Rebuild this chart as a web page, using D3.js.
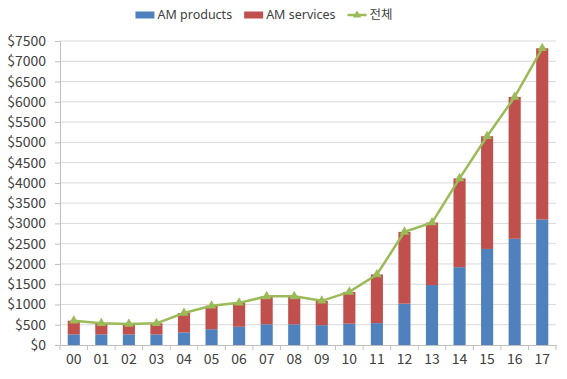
<!DOCTYPE html>
<html>
<head>
<meta charset="utf-8">
<script src="https://cdn.jsdelivr.net/npm/d3@7"></script>
<style>
  body { margin: 0; background: #fff; }
  text { font-family: "Noto Sans CJK KR", "Open Sans", sans-serif; fill: #404040; }
  .legend text { font-family: "Noto Sans", "Noto Sans CJK KR", sans-serif; }
</style>
</head>
<body>
<div id="chart"></div>
<script>
const years = ["00","01","02","03","04","05","06","07","08","09","10","11","12","13","14","15","16","17"];
const products = [260, 260, 260, 260, 310, 390, 450, 510, 510, 490, 525, 540, 1020, 1480, 1920, 2370, 2620, 3100];
const totals = [600, 535, 520, 535, 790, 970, 1040, 1200, 1200, 1090, 1310, 1740, 2790, 3020, 4110, 5150, 6120, 7320];
const services = totals.map((t, i) => t - products[i]);
const yTicks = d3.range(0, 7501, 500);

const margin = {top: 41, right: 11, bottom: 34, left: 60},
    width = 567 - margin.left - margin.right,
    height = 379 - margin.top - margin.bottom;

const svg = d3.select("#chart")
  .append("svg")
    .attr("width", 567)
    .attr("height", 379)
  .append("g")
    .attr("transform", `translate(${margin.left}, ${margin.top})`);

const x = d3.scaleBand().domain(years).range([0, width]).paddingInner(0.56).paddingOuter(0.28);
const y = d3.scaleLinear().domain([0, 7500]).range([height, 0]);

// gridlines
svg.append("g")
  .selectAll("line")
  .data(yTicks.slice(1))
  .join("line")
    .attr("x1", 0).attr("x2", width)
    .attr("y1", d => y(d)).attr("y2", d => y(d))
    .attr("stroke", "#d9d9d9");

// stacked bars
const data = years.map((yr, i) => ({yr, products: products[i], services: services[i]}));
const stacked = d3.stack().keys(["products", "services"])(data);
const color = d3.scaleOrdinal().domain(["products", "services"]).range(["#4f81bd", "#c0504d"]);

svg.selectAll("g.layer")
  .data(stacked)
  .join("g")
    .attr("fill", d => color(d.key))
  .selectAll("rect")
  .data(d => d)
  .join("rect")
    .attr("x", d => x(d.data.yr))
    .attr("width", x.bandwidth())
    .attr("y", d => y(d[1]))
    .attr("height", d => y(d[0]) - y(d[1]));

// Y axis
const yAxis = svg.append("g")
  .call(d3.axisLeft(y).tickValues(yTicks).tickSize(5).tickPadding(9).tickFormat(d => "$" + d));
yAxis.select(".domain").attr("stroke", "#bfbfbf");
yAxis.selectAll(".tick line").attr("stroke", "#bfbfbf");
yAxis.selectAll("text").style("font-size", "14px").attr("fill", "#404040");

// X axis
const xAxis = svg.append("g")
  .attr("transform", `translate(0, ${height})`)
  .call(d3.axisBottom(x).tickSize(0).tickPadding(9));
xAxis.select(".domain").attr("stroke", "#bfbfbf");
xAxis.selectAll("text").style("font-size", "14px").attr("fill", "#404040");
// tick marks between categories
const step = x.step();
svg.append("g")
  .selectAll("line")
  .data(d3.range(years.length + 1))
  .join("line")
    .attr("x1", i => i * step).attr("x2", i => i * step)
    .attr("y1", height).attr("y2", height + 5)
    .attr("stroke", "#bfbfbf");

// total line
const line = d3.line()
  .x((d, i) => x(years[i]) + x.bandwidth() / 2)
  .y(d => y(d));
svg.append("path")
  .datum(totals)
  .attr("fill", "none")
  .attr("stroke", "#9bbb59")
  .attr("stroke-width", 2.5)
  .attr("d", line);

const tri = d3.symbol().type(d3.symbolTriangle).size(40);
svg.selectAll("path.marker")
  .data(totals)
  .join("path")
    .attr("class", "marker")
    .attr("d", tri)
    .attr("transform", (d, i) => `translate(${x(years[i]) + x.bandwidth() / 2}, ${y(d)})`)
    .attr("fill", "#9bbb59");

// legend, laid out left to right then centred
const legend = d3.select("svg").append("g").attr("class", "legend");
const items = [
  {label: "AM products", type: "rect", color: "#4f81bd"},
  {label: "AM services", type: "rect", color: "#c0504d"},
  {label: "전체", type: "line", color: "#9bbb59"}
];
let cursor = 0;
items.forEach(it => {
  const g = legend.append("g").attr("transform", `translate(${cursor}, 0)`);
  if (it.type === "rect") {
    g.append("rect").attr("x", 0).attr("y", -3.5).attr("width", 19).attr("height", 7).attr("fill", it.color);
  } else {
    g.append("line").attr("x1", 0).attr("x2", 19).attr("y1", 0).attr("y2", 0)
      .attr("stroke", it.color).attr("stroke-width", 2.5);
    g.append("path").attr("d", d3.symbol().type(d3.symbolTriangle).size(30))
      .attr("transform", "translate(9.5, 0)").attr("fill", it.color);
  }
  const t = g.append("text").attr("x", 22).attr("y", 0).attr("dy", "0.35em")
    .style("font-size", "12.5px").text(it.label);
  cursor += 22 + t.node().getComputedTextLength() + 12;
});
const total = cursor - 12;
legend.attr("transform", `translate(${(153 + 375) / 2 - total / 2}, 15)`);
</script>
</body>
</html>
